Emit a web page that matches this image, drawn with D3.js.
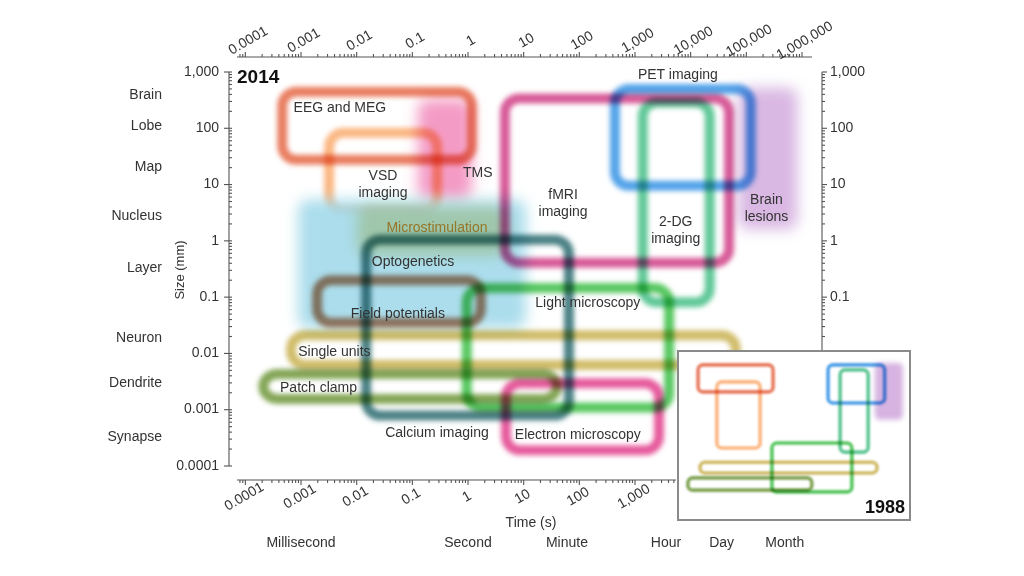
<!DOCTYPE html>
<html><head><meta charset="utf-8">
<script src="https://cdn.jsdelivr.net/npm/d3@7"></script>
<style>
body{margin:0;background:#fff;}
text{font-family:"Liberation Sans",Arial,Helvetica,sans-serif;fill:#333;}
</style></head><body>
<svg id="c" width="1024" height="576"></svg>
<script>
// ---------------- DATA ----------------
const methods2014 = ["EEG and MEG","VSD imaging","TMS","Optogenetics","Microstimulation","Brain lesions","fMRI imaging","PET imaging","2-DG imaging","Field potentials","Calcium imaging","Light microscopy","Single units","Patch clamp","Electron microscopy"];
const kind2014    = ["outline","outline","fill","fill","fill","fill","outline","outline","outline","outline","outline","outline","outline","outline","outline"];
const timeMin2014 = [4.6e-4, 3.2e-3, 0.126, 8.9e-4, 0.0102, 7.1e4, 4.6, 436, 1380, 1.95e-3, 0.0148, 0.95, 6.6e-4, 2.1e-4, 4.8];
const timeMax2014 = [1.17, 0.28, 1.17, 11, 5.0, 8.3e5, 4.9e4, 1.2e5, 2.2e4, 1.7, 65, 4100, 6.5e4, 40, 2700];
const sizeMin2014 = [27.5, 3.4, 5.4, 0.028, 0.56, 1.6, 0.41, 9.5, 0.081, 0.035, 7.9e-4, 1.1e-3, 6.2e-3, 1.55e-3, 1.9e-4];
const sizeMax2014 = [447, 83, 324, 5.4, 4.0, 525, 339, 500, 288, 0.2, 1.05, 0.145, 0.021, 4.3e-3, 2.95e-3];
const labelLines2014 = [["EEG and MEG"],["VSD","imaging"],["TMS"],["Optogenetics"],["Microstimulation"],["Brain","lesions"],["fMRI","imaging"],["PET imaging"],["2-DG","imaging"],["Field potentials"],["Calcium imaging"],["Light microscopy"],["Single units"],["Patch clamp"],["Electron microscopy"]];
const labelTime2014 = [5.0e-3, 0.0297, 1.5, 0.103, 0.277, 2.3e5, 51, 5900, 5400, 0.055, 0.277, 142, 8.9e-4, 4.2e-4, 94];
const labelSize2014 = [234, 14.4, 16.2, 0.425, 1.7, 5.4, 6.6, 870, 2.2, 0.05, 3.8e-4, 0.079, 0.0105, 2.4e-3, 3.5e-4];
const labelAlign2014 = ["middle","middle","middle","middle","middle","middle","middle","middle","middle","middle","middle","middle","start","start","middle"];

const methods1988 = ["EEG and MEG","VSD imaging","Brain lesions","PET imaging","2-DG imaging","Light microscopy","Single units","Patch clamp"];
const kind1988    = ["outline","outline","fill","outline","outline","outline","outline","outline"];
const timeMin1988 = [4.6e-4, 3.2e-3, 4.0e4, 316, 1100, 0.95, 5.6e-4, 1.6e-4];
const timeMax1988 = [1.07, 0.28, 7.3e5, 1.1e5, 2.0e4, 3700, 5.0e4, 59];
const sizeMin1988 = [28, 0.09, 1.6, 9, 0.059, 0.001, 6.9e-3, 1.2e-3];
const sizeMax1988 = [445, 78, 547, 445, 267, 0.15, 0.021, 4.2e-3];

const timeTickValues = [1e-4,1e-3,1e-2,1e-1,1,10,100,1e3,1e4,1e5,1e6];
const timeTickLabels = ["0.0001","0.001","0.01","0.1","1","10","100","1,000","10,000","100,000","1,000,000"];
const sizeTickValues = [1e3,100,10,1,0.1,0.01,0.001,0.0001];
const sizeTickLabels = ["1,000","100","10","1","0.1","0.01","0.001","0.0001"];
const structureNames = ["Brain","Lobe","Map","Nucleus","Layer","Neuron","Dendrite","Synapse"];
const structureSizes = [380, 107, 20, 2.7, 0.33, 0.0186, 2.9e-3, 3.2e-4];
const timeUnitNames = ["Millisecond","Second","Minute","Hour","Day","Month"];
const timeUnitValues = [1e-3, 1, 60, 3600, 3.6e4, 4.9e5];

// ---------------- STYLE ----------------
const colorOf = {
  "EEG and MEG":"#e66c4c","VSD imaging":"#fbae74","TMS":"#f070ac","Optogenetics":"#a4daea",
  "Microstimulation":"#e2d68a","Brain lesions":"#cca0da","fMRI imaging":"#d2468a","PET imaging":"#3c96e6",
  "2-DG imaging":"#4cc08a","Field potentials":"#b06e4e","Calcium imaging":"#336f74","Light microscopy":"#42c04c",
  "Single units":"#cbb456","Patch clamp":"#729a40","Electron microscopy":"#e2448e"
};
const fillOpacity = {"TMS":0.7,"Optogenetics":0.92,"Microstimulation":0.6,"Brain lesions":0.75};

// ---------------- SCALES ----------------
const svg = d3.select("#c");
const x = d3.scaleLog().domain([Math.pow(10,-4.15), Math.pow(10,6.18)]).range([237, 812]);
const y = d3.scaleLog().domain([1e-4, 1e3]).range([466, 72]);
const xI = d3.scaleLog().domain(x.domain()).range([680, 910]);
const yI = d3.scaleLog().domain([y.invert(480), y.invert(57)]).range([520, 351]);

const defs = svg.append("defs");
function blur(id, sd){
  defs.append("filter").attr("id",id).attr("x","-40%").attr("y","-40%").attr("width","180%").attr("height","180%")
    .append("feGaussianBlur").attr("stdDeviation",sd);
}
blur("bo",2.9); blur("bf",7); blur("bi",1.1); blur("bif",2.5);

function minorTicks(dom){
  const out=[]; const lo=Math.floor(Math.log10(dom[0])), hi=Math.ceil(Math.log10(dom[1]));
  for(let k=lo;k<=hi;k++) for(let m=1;m<=9;m++){const v=m*Math.pow(10,k); if(v>=dom[0]*0.999&&v<=dom[1]*1.001) out.push(v);}
  return out;
}

// ---------------- MARKS (2014) ----------------
const gMain = svg.append("g");
methods2014.forEach((name,i)=>{
  const x0=x(timeMin2014[i]), x1=x(timeMax2014[i]), y0=y(sizeMax2014[i]), y1=y(sizeMin2014[i]);
  const r = gMain.append("rect").attr("x",x0).attr("y",y0).attr("width",x1-x0).attr("height",y1-y0);
  if(kind2014[i]==="fill"){
    r.attr("rx",10).attr("fill",colorOf[name]).attr("fill-opacity",fillOpacity[name]).attr("filter","url(#bf)");
    if(name!=="Optogenetics") r.style("mix-blend-mode","multiply");
  } else {
    r.attr("rx",14).attr("fill","none").attr("stroke",colorOf[name]).attr("stroke-width",10)
     .attr("stroke-opacity",0.88).attr("filter","url(#bo)").style("mix-blend-mode","multiply");
  }
});

// labels
const gLab = svg.append("g").attr("font-size",14);
methods2014.forEach((name,i)=>{
  const t = gLab.append("text").attr("x",x(labelTime2014[i])).attr("y",y(labelSize2014[i]))
    .attr("text-anchor",labelAlign2014[i]).attr("dominant-baseline","middle");
  if(name==="Microstimulation") t.style("fill","#957528");
  labelLines2014[i].forEach((ln,j)=>{
    t.append("tspan").attr("x",x(labelTime2014[i])).attr("dy",j===0?0:17).text(ln);
  });
});

// ---------------- AXES ----------------
const axisColor="#555";
const gAx = svg.append("g").attr("stroke",axisColor).attr("stroke-width",1.1);
const xd = x.domain();
gAx.append("line").attr("x1",x(xd[0])).attr("x2",x(xd[1])).attr("y1",57).attr("y2",57);
minorTicks(xd).forEach(v=>{
  const major = Math.abs(Math.log10(v)-Math.round(Math.log10(v)))<1e-9;
  gAx.append("line").attr("x1",x(v)).attr("x2",x(v)).attr("y1",57).attr("y2",57-(major?5:3));
});
const xb = [xd[0], x.invert(676)];
gAx.append("line").attr("x1",x(xb[0])).attr("x2",676).attr("y1",480).attr("y2",480);
minorTicks(xb).forEach(v=>{
  const major = Math.abs(Math.log10(v)-Math.round(Math.log10(v)))<1e-9;
  gAx.append("line").attr("x1",x(v)).attr("x2",x(v)).attr("y1",480).attr("y2",480+(major?5:3));
});
const yd = y.domain();
gAx.append("line").attr("x1",229).attr("x2",229).attr("y1",y(yd[0])).attr("y2",y(yd[1]));
minorTicks(yd).forEach(v=>{
  const major = Math.abs(Math.log10(v)-Math.round(Math.log10(v)))<1e-9;
  gAx.append("line").attr("x1",major?224:229).attr("x2",232).attr("y1",y(v)).attr("y2",y(v));
});
const yr=[y.invert(350), yd[1]];
gAx.append("line").attr("x1",822).attr("x2",822).attr("y1",y(yr[0])).attr("y2",y(yr[1]));
minorTicks(yr).forEach(v=>{
  const major = Math.abs(Math.log10(v)-Math.round(Math.log10(v)))<1e-9;
  gAx.append("line").attr("x1",822).attr("x2",major?827:825).attr("y1",y(v)).attr("y2",y(v));
});

// tick labels
const gT = svg.append("g").attr("font-size",14);
timeTickValues.forEach((v,i)=>{
  gT.append("text").attr("text-anchor","middle").attr("dominant-baseline","middle")
    .attr("transform",`translate(${x(v)+3},${41}) rotate(-30)`).text(timeTickLabels[i]);
  if(v<=1000) gT.append("text").attr("text-anchor","middle").attr("dominant-baseline","middle")
    .attr("transform",`translate(${x(v)-1},${497}) rotate(-30)`).text(timeTickLabels[i]);
});
sizeTickValues.forEach((v,i)=>{
  gT.append("text").attr("x",219).attr("y",y(v)).attr("text-anchor","end").attr("dominant-baseline","middle").text(sizeTickLabels[i]);
  if(v>=0.1) gT.append("text").attr("x",830).attr("y",y(v)).attr("text-anchor","start").attr("dominant-baseline","middle").text(sizeTickLabels[i]);
});
structureNames.forEach((n,i)=>{
  gT.append("text").attr("x",162).attr("y",y(structureSizes[i])).attr("text-anchor","end").attr("dominant-baseline","middle").text(n);
});
timeUnitNames.forEach((n,i)=>{
  gT.append("text").attr("x",x(timeUnitValues[i])).attr("y",543).attr("text-anchor","middle").attr("dominant-baseline","middle").text(n);
});
gT.append("text").attr("x",531).attr("y",523).attr("text-anchor","middle").attr("dominant-baseline","middle").text("Time (s)");
gT.append("text").attr("transform","translate(181,270) rotate(-90)").attr("text-anchor","middle").attr("dominant-baseline","middle").attr("font-size",13).text("Size (mm)");
svg.append("text").attr("x",237).attr("y",78).attr("font-size",19).attr("font-weight","bold").attr("dominant-baseline","middle").style("fill","#111").text("2014");

// ---------------- INSET (1988) ----------------
const gIn = svg.append("g");
gIn.append("rect").attr("x",678).attr("y",351).attr("width",232).attr("height",169)
  .attr("fill","#fff").attr("stroke","#8a8a8a").attr("stroke-width",2);
methods1988.forEach((name,i)=>{
  const x0=xI(timeMin1988[i]), x1=xI(timeMax1988[i]), y0=yI(sizeMax1988[i]), y1=yI(sizeMin1988[i]);
  const r = gIn.append("rect").attr("x",x0).attr("y",y0).attr("width",x1-x0).attr("height",y1-y0)
    .style("mix-blend-mode","multiply");
  if(kind1988[i]==="fill"){
    r.attr("rx",5).attr("fill",colorOf[name]).attr("fill-opacity",0.8).attr("filter","url(#bif)");
  } else {
    r.attr("rx",5).attr("fill","none").attr("stroke",colorOf[name]).attr("stroke-width",3.6)
     .attr("stroke-opacity",0.9).attr("filter","url(#bi)");
  }
});
gIn.append("text").attr("x",905).attr("y",508).attr("text-anchor","end").attr("dominant-baseline","middle")
  .attr("font-size",18).attr("font-weight","bold").style("fill","#111").text("1988");
</script>
</body></html>
